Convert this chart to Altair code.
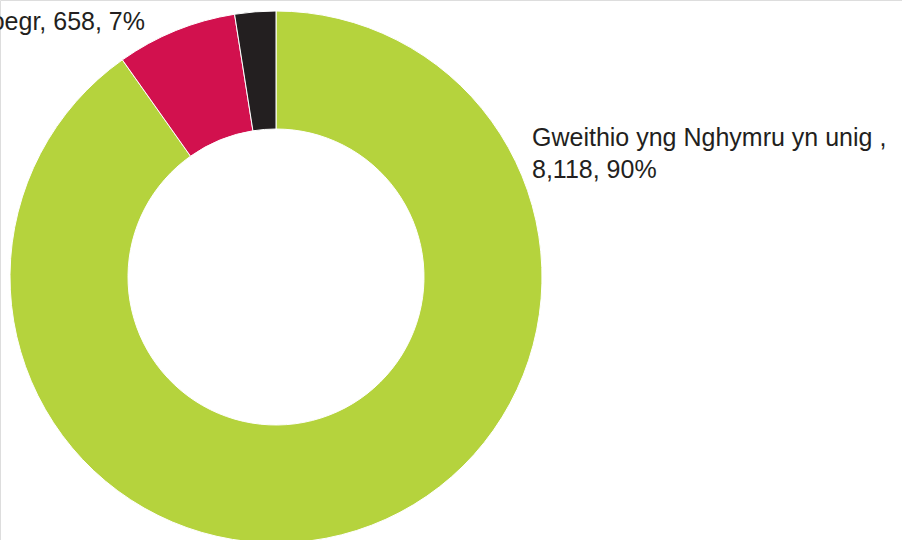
import altair as alt
import pandas as pd

categories = ["Gweithio yng Nghymru yn unig ", "Gweithio yn Lloegr", "Gweithio yng Nghymru a Lloegr"]
values = [8118, 658, 224]
percents = [90, 7, 2]
colors = ["#b5d33d", "#d2114e", "#231f20"]

labels = [
    f"{c},\n{v:,}, {p}%" if i == 0 else f"{c}, {v:,}, {p}%"
    for i, (c, v, p) in enumerate(zip(categories, values, percents))
]

df = pd.DataFrame({
    "category": categories,
    "value": values,
    "label": labels,
    "order": list(range(len(categories))),
})

base = alt.Chart(df)

arc = base.mark_arc(innerRadius=148, outerRadius=266, stroke="white", strokeWidth=1).encode(
    theta=alt.Theta("value:Q", stack=True),
    color=alt.Color("category:N", scale=alt.Scale(domain=categories, range=colors), legend=None),
    order=alt.Order("order:Q"),
    x=alt.value(276),
    y=alt.value(277),
)

text_style = dict(font="Liberation Sans", fontSize=25, color="#231f20", baseline="alphabetic",
                  lineBreak="\n", lineHeight=32)

label_main = base.transform_filter(alt.datum.order == 0).mark_text(align="left", **text_style).encode(
    text="label:N", x=alt.value(532), y=alt.value(146)
)
label_red = base.transform_filter(alt.datum.order == 1).mark_text(align="right", **text_style).encode(
    text="label:N", x=alt.value(145), y=alt.value(30)
)

chart = alt.layer(arc, label_main, label_red).properties(
    width=902, height=540, padding=0,
    autosize=alt.AutoSizeParams(type="none"),
).configure_view(stroke=None).configure(background="white")

chart.save("out.html", embed_options={"renderer": "svg", "actions": False})
